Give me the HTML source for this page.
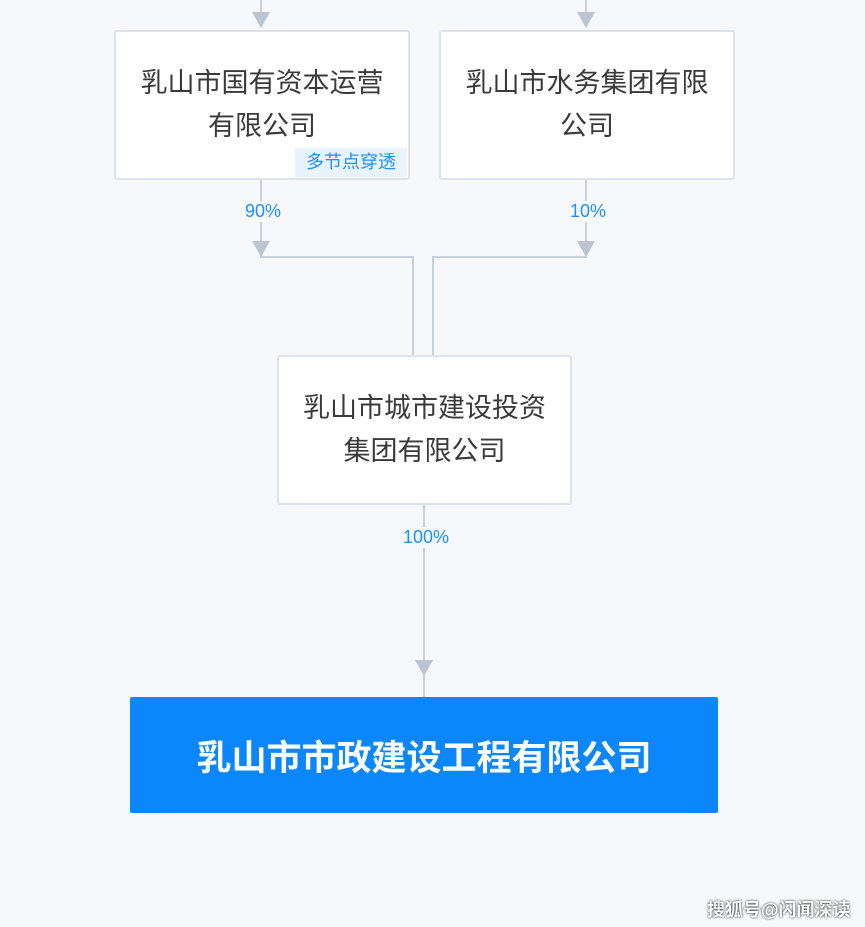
<!DOCTYPE html>
<html><head><meta charset="utf-8"><style>
body{margin:0;width:865px;height:927px;background:#f6f8fb;position:relative;overflow:hidden;font-family:"Liberation Sans","Noto Sans CJK SC",sans-serif;}
.box{position:absolute;background:#fff;border:2px solid #dde2eb;border-radius:3px;box-sizing:border-box;display:flex;align-items:center;justify-content:center;text-align:center;color:#3a3a3a;font-size:27px;line-height:43px;}
.pct{position:absolute;color:#1e90ff;font-size:18px;transform:translateX(-50%);background:#f6f8fb;padding:0 2px;}
</style></head><body>
<svg width="865" height="927" style="position:absolute;left:0;top:0">
<g stroke="#c9cfdb" stroke-width="2" fill="none">
<path d="M261 0V14M586 0V14"/>
<path d="M261 179V257H413V355M586 179V257H433V355"/>
<path d="M424 504V697"/>
</g>
<g fill="#bcc3d1">
<path d="M252 12h18l-9 16z"/><path d="M577 12h18l-9 16z"/>
<path d="M252 241h18l-9 16z"/><path d="M577 241h18l-9 16z"/>
<path d="M415 660h18l-9 16z"/>
</g>
</svg>
<div class="box" style="left:114px;top:30px;width:296px;height:150px">乳山市国有资本运营<br>有限公司</div>
<div style="position:absolute;left:295px;top:148px;width:112px;height:29px;background:#e8f3ff;color:#1e90ff;font-size:18px;line-height:29px;text-align:center">多节点穿透</div>
<div class="box" style="left:439px;top:30px;width:296px;height:150px">乳山市水务集团有限<br>公司</div>
<div class="box" style="left:277px;top:355px;width:295px;height:150px">乳山市城市建设投资<br>集团有限公司</div>
<div class="pct" style="left:263px;top:201px">90%</div>
<div class="pct" style="left:588px;top:201px">10%</div>
<div class="pct" style="left:426px;top:527px">100%</div>
<div style="position:absolute;left:130px;top:697px;width:588px;height:116px;background:#0b87fb;border-radius:2px;color:#fff;font-size:35px;font-weight:bold;display:flex;align-items:center;justify-content:center">乳山市市政建设工程有限公司</div>
<div style="position:absolute;left:707px;top:896px;color:#fff;font-size:18px;font-weight:bold;text-shadow:0 0 2px #000">搜狐号@闪闻深读</div>
</body></html>
